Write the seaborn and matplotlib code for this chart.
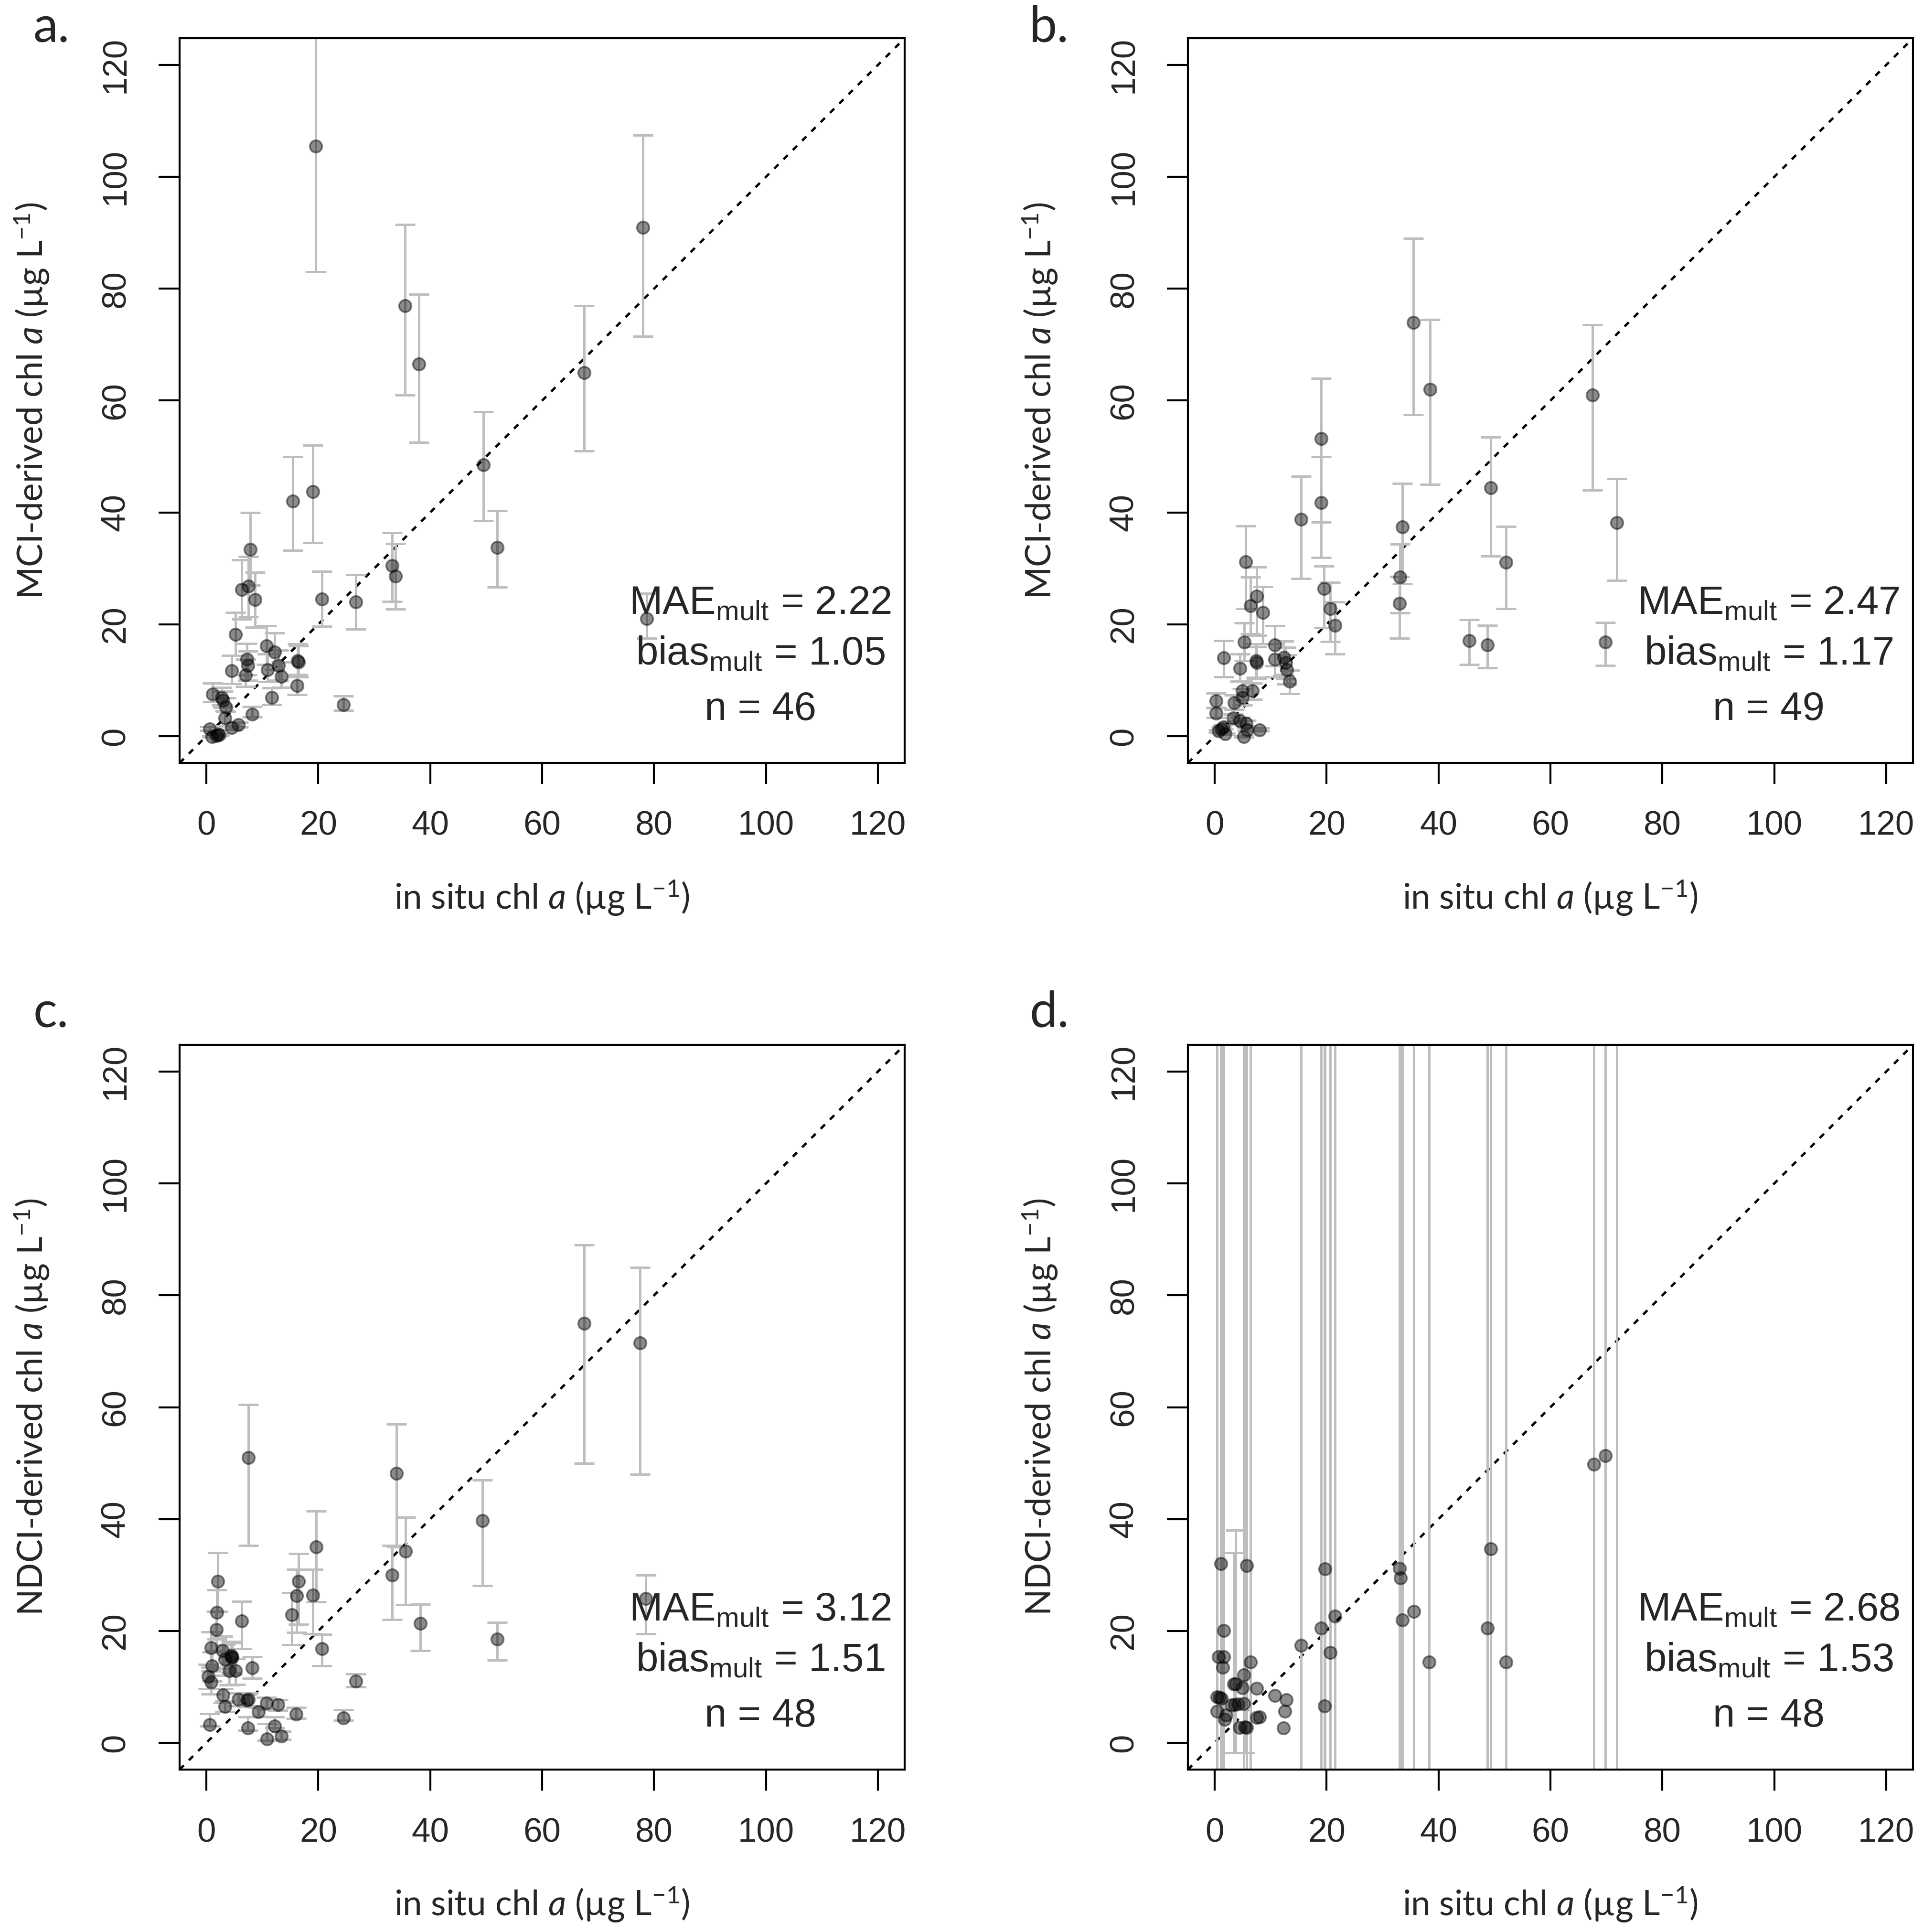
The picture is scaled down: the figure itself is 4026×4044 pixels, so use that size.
import numpy as np
import matplotlib
matplotlib.use("Agg")
import matplotlib.pyplot as plt
import seaborn as sns

# ---------------------------------------------------------------
# data (in situ chl a, derived chl a, error bar ends)
# ---------------------------------------------------------------
a_insitu = [19.5, 78.0, 35.5, 38.0, 67.5, 49.5, 52.0, 78.7, 15.4, 19.0, 7.8, 6.3, 7.5, 8.7, 20.6, 26.7,
            33.2, 33.8, 5.2, 10.7, 12.2, 7.2, 7.4, 16.3, 16.5, 4.5, 10.9, 12.9, 7.0, 13.4, 16.2, 1.1,
            2.7, 3.0, 3.5, 11.7, 24.5, 3.3, 8.2, 4.5, 5.7, 0.6, 1.0, 1.8, 2.0, 2.3]
a_derived = [105.5, 91.0, 77.0, 66.5, 65.0, 48.5, 33.7, 21.0, 42.0, 43.7, 33.4, 26.2, 26.8, 24.4, 24.5, 24.0,
             30.5, 28.6, 18.2, 16.1, 15.0, 13.7, 12.6, 13.5, 13.2, 11.7, 11.9, 12.6, 10.9, 10.7, 9.0, 7.5,
             6.9, 6.4, 5.2, 6.9, 5.6, 3.2, 3.9, 1.5, 2.0, 1.3, -0.1, 0.1, 0.3, 0.2]
a_lower = [83.0, 71.5, 61.0, 52.5, 51.0, 38.5, 26.6, 17.5, 33.2, 34.6, 27.0, 20.9, 21.3, 19.5, 19.6, 19.1,
           24.1, 22.7, 14.4, 12.8, 11.9, 10.9, 10.0, 11.0, 10.6, 9.4, 9.7, 10.0, 8.9, 8.7, 7.4, 6.1,
           5.5, 5.1, 4.3, 5.6, 4.6, 1.8, 3.4, 1.2, 1.6, 1.0, -0.2, 0.0, 0.2, 0.1]
a_upper = [128.0, 107.5, 91.5, 79.0, 77.0, 58.0, 40.3, 25.5, 50.0, 52.0, 40.0, 31.5, 32.1, 29.3, 29.5, 28.9,
           36.4, 34.4, 22.1, 19.7, 18.4, 16.6, 15.2, 16.5, 16.1, 14.4, 14.7, 15.4, 13.7, 13.2, 10.7, 9.5,
           8.7, 8.0, 6.8, 8.6, 7.2, 4.5, 5.3, 1.9, 2.5, 1.7, 0.1, 0.2, 0.4, 0.3]

b_insitu = [35.5, 38.5, 67.5, 19.0, 19.0, 15.4, 33.5, 49.3, 52.1, 71.9, 45.5, 48.7, 69.8, 33.1, 33.0, 19.5,
            20.6, 21.5, 5.5, 7.5, 6.4, 8.6, 5.3, 1.6, 4.5, 7.4, 7.5, 10.7, 10.7, 12.4, 12.7, 12.9,
            13.4, 0.2, 0.2, 3.5, 4.9, 4.9, 6.7, 3.3, 4.5, 5.6, 5.8, 5.2, 8.0, 0.7, 1.5, 1.9, 1.2]
b_derived = [74.0, 62.0, 61.0, 53.2, 41.8, 38.8, 37.4, 44.4, 31.1, 38.2, 17.1, 16.3, 16.8, 28.4, 23.7, 26.4,
             22.8, 19.8, 31.2, 25.0, 23.3, 22.1, 16.8, 14.0, 12.1, 13.5, 13.1, 16.3, 13.7, 14.1, 13.1, 11.9,
             9.8, 6.3, 4.1, 6.0, 6.9, 8.1, 8.1, 3.2, 2.7, 2.3, 1.1, -0.1, 1.1, 0.9, 1.6, 0.4, 1.3]
b_lower = [57.5, 45.0, 44.0, 38.3, 31.9, 28.2, 27.2, 32.2, 22.8, 27.8, 12.8, 12.2, 12.6, 22.0, 17.5, 19.4,
           16.9, 14.7, 22.8, 18.0, 18.3, 16.5, 13.5, 10.6, 9.8, 10.5, 10.2, 12.5, 10.6, 11.0, 10.2, 9.3,
           7.6, 5.1, 3.3, 4.8, 5.5, 6.5, 6.6, 2.6, 2.2, 1.9, 0.9, -0.2, 0.9, 0.7, 1.3, 0.3, 1.0]
b_upper = [89.0, 74.5, 73.5, 64.0, 50.0, 46.5, 45.2, 53.5, 37.5, 46.0, 20.8, 19.8, 20.3, 34.3, 28.5, 30.4,
           27.5, 24.0, 37.6, 30.2, 28.4, 26.7, 20.2, 17.1, 14.7, 16.5, 16.0, 19.7, 16.5, 17.0, 15.9, 14.5,
           11.8, 7.7, 5.0, 7.3, 8.4, 9.8, 9.5, 3.9, 3.3, 2.8, 1.4, 0.1, 1.4, 1.1, 2.0, 0.5, 1.6]

c_insitu = [67.5, 77.5, 7.5, 34.0, 49.3, 19.6, 35.6, 33.2, 38.2, 52.0, 78.5, 2.0, 1.9, 1.8, 6.3, 16.5,
            16.1, 19.0, 15.3, 20.6, 26.7, 24.5, 0.8, 2.9, 3.3, 4.4, 4.5, 4.6, 4.1, 5.2, 1.0, 0.3,
            0.8, 8.2, 3.0, 3.3, 5.7, 7.2, 7.5, 10.7, 12.8, 9.3, 16.0, 0.6, 7.4, 12.2, 10.8, 13.4]
c_derived = [75.0, 71.5, 51.0, 48.2, 39.7, 35.0, 34.2, 30.0, 21.3, 18.5, 25.8, 28.9, 23.3, 20.2, 21.8, 28.9,
             26.3, 26.4, 22.9, 16.8, 11.0, 4.4, 17.0, 16.5, 14.9, 15.6, 15.2, 15.4, 12.9, 12.9, 13.7, 11.9,
             10.8, 13.4, 8.5, 6.5, 7.8, 7.6, 7.8, 7.1, 6.8, 5.5, 5.1, 3.2, 2.6, 3.0, 0.7, 1.2]
c_lower = [50.0, 48.0, 35.3, 35.0, 28.1, 25.2, 24.7, 22.0, 16.5, 14.8, 19.5, 23.5, 18.5, 16.5, 16.8, 21.2,
           19.7, 19.5, 17.5, 13.7, 10.0, 4.0, 13.5, 13.2, 12.0, 12.5, 12.2, 12.3, 10.3, 10.4, 11.0, 9.6,
           8.7, 11.5, 7.2, 5.5, 6.6, 6.4, 6.6, 6.0, 5.8, 4.7, 4.3, 3.0, 2.2, 2.6, 0.4, 0.6]
c_upper = [89.0, 85.0, 60.5, 57.0, 47.0, 41.4, 40.3, 35.3, 24.8, 21.5, 30.0, 34.0, 27.3, 23.5, 25.3, 33.8,
           31.0, 31.0, 26.8, 19.4, 12.3, 5.9, 19.8, 19.0, 17.5, 18.1, 17.8, 18.0, 15.2, 15.0, 16.2, 14.0,
           12.8, 15.4, 9.6, 7.4, 8.9, 8.7, 8.9, 8.1, 7.7, 6.3, 6.3, 5.2, 4.6, 4.6, 3.4, 2.0]

# nan = no error bar drawn; very wide bars run past the plot area
nan = np.nan
d_insitu = [49.3, 1.1, 5.7, 19.7, 33.0, 33.2, 35.6, 33.5, 21.5, 19.0, 48.7, 1.6, 15.4, 20.6, 38.3, 52.1,
            0.7, 1.6, 1.4, 6.4, 5.2, 3.4, 3.7, 4.9, 7.5, 10.7, 12.8, 12.5, 12.3, 19.6, 0.4, 0.8,
            0.4, 2.0, 1.8, 3.0, 3.6, 4.2, 5.2, 7.5, 8.0, 4.4, 5.4, 5.7, 67.8, 69.8, 71.9, 1.2]
d_derived = [34.7, 32.0, 31.7, 31.1, 31.2, 29.5, 23.5, 21.9, 22.6, 20.5, 20.5, 20.1, 17.4, 16.1, 14.4, 14.4,
             15.4, 15.4, 13.5, 14.4, 12.1, 10.5, 10.5, 9.8, 9.7, 8.4, 7.7, 5.6, 2.6, 6.6, 8.2, 8.1,
             5.6, 4.9, 4.2, 6.7, 6.8, 6.9, 7.0, 4.5, 4.6, 2.7, 2.8, 2.7, 49.8, 51.3, -12.0, 7.9]
d_lower = [-35, -35, -35, -35, -35, -35, -35, -35, -35, -35, -35, -35, -35, -35, -35, -35,
           nan, -35, -35, -35, -35, -1.8, -1.8, nan, nan, nan, nan, nan, nan, -35, -35, nan,
           -35, nan, nan, nan, nan, nan, nan, nan, nan, nan, -1.8, -35, -35, -35, -35, nan]
d_upper = [310, 310, 310, 310, 310, 310, 310, 310, 310, 310, 310, 310, 310, 310, 310, 310,
           nan, 310, 310, 310, 310, 34.0, 38.0, nan, nan, nan, nan, nan, nan, 310, 310, nan,
           310, nan, nan, nan, nan, nan, nan, nan, nan, nan, 310, 310, 310, 310, 310, nan]

panel_letters = ["a.", "b.", "c.", "d."]
y_labels = ["MCI-derived chl $\\mathit{a}$ (µg L$\\mathregular{^{-1}}$)",
            "MCI-derived chl $\\mathit{a}$ (µg L$\\mathregular{^{-1}}$)",
            "NDCI-derived chl $\\mathit{a}$ (µg L$\\mathregular{^{-1}}$)",
            "NDCI-derived chl $\\mathit{a}$ (µg L$\\mathregular{^{-1}}$)"]
x_label = "in situ chl $\\mathit{a}$ (µg L$\\mathregular{^{-1}}$)"
mae_values = ["2.22", "2.47", "3.12", "2.68"]
bias_values = ["1.05", "1.17", "1.51", "1.53"]
n_values = ["46", "49", "48", "48"]
ticks = [0, 20, 40, 60, 80, 100, 120]

panels = [
    (a_insitu, a_derived, a_lower, a_upper),
    (b_insitu, b_derived, b_lower, b_upper),
    (c_insitu, c_derived, c_lower, c_upper),
    (d_insitu, d_derived, d_lower, d_upper),
]

# ---------------------------------------------------------------
sns.set_style("ticks")
plt.rcParams["font.family"] = ["Liberation Sans", "DejaVu Sans"]
plt.rcParams["mathtext.fontset"] = "custom"
plt.rcParams["mathtext.rm"] = "Liberation Sans"
plt.rcParams["mathtext.it"] = "Lato:italic"

fig = plt.figure(figsize=(4026 / 300, 4044 / 300), dpi=300)
fig.patch.set_facecolor("white")

ax_w = 1518 / 4026
ax_h = 1517 / 4044
lefts = [376 / 4026, 2487 / 4026]
bottoms = [1 - 1597 / 4044, 1 - 3704 / 4044]
letter_x = [70 / 4026, 2155 / 4026]
letter_y = [1 - 88 / 4044, 1 - 2150 / 4044]

for i, (xs, ys, lo, hi) in enumerate(panels):
    row, col = divmod(i, 2)
    ax = fig.add_axes([lefts[col], bottoms[row], ax_w, ax_h])
    ax.set_facecolor("white")

    xs = np.array(xs)
    ys = np.array(ys)
    lo = np.array(lo, dtype=float)
    hi = np.array(hi, dtype=float)
    has_bar = ~np.isnan(lo)

    ax.errorbar(xs[has_bar], ys[has_bar],
                yerr=[ys[has_bar] - lo[has_bar], hi[has_bar] - ys[has_bar]],
                fmt="none", ecolor="#bebebe", elinewidth=1.2, capsize=5, capthick=1.2, zorder=2)

    sns.scatterplot(x=xs, y=ys, ax=ax, s=38, color="black", alpha=0.45,
                    edgecolor="black", linewidth=0.9, zorder=3, legend=False)

    ax.axline((0, 0), slope=1, color="black", lw=1.2, linestyle=(0, (2.5, 3)), zorder=1)

    ax.set_xlim(-4.8, 124.8)
    ax.set_ylim(-4.8, 124.8)
    ax.set_xticks(ticks)
    ax.set_yticks(ticks)
    ax.tick_params(axis="both", length=10.5, width=1.0, pad=13.5, labelsize=17, color="black")
    ax.tick_params(axis="y", labelrotation=90)
    for lab in ax.get_yticklabels():
        lab.set_va("center")
    for sp in ax.spines.values():
        sp.set_visible(True)
        sp.set_linewidth(1.0)
        sp.set_color("black")

    ax.set_xlabel(x_label, family=["Lato", "DejaVu Sans"], fontsize=17.5, va="baseline")
    ax.xaxis.set_label_coords(0.5, -0.2017)
    ax.set_ylabel(y_labels[i], family=["Lato", "DejaVu Sans"], fontsize=17.5, va="baseline")
    ax.yaxis.set_label_coords(-0.1884, 0.5)

    ax.text(99, 21.8, "MAE$\\mathregular{_{mult}}$ = " + mae_values[i], fontsize=20,
            ha="center", va="baseline")
    ax.text(99, 12.8, "bias$\\mathregular{_{mult}}$ = " + bias_values[i], fontsize=20,
            ha="center", va="baseline")
    ax.text(99, 2.9, "n = " + n_values[i], fontsize=20, ha="center", va="baseline")

    fig.text(letter_x[col], letter_y[row], panel_letters[i], family=["Lato", "DejaVu Sans"],
             fontsize=25, ha="left", va="baseline")

fig.savefig("out.png", dpi=300, facecolor="white")
